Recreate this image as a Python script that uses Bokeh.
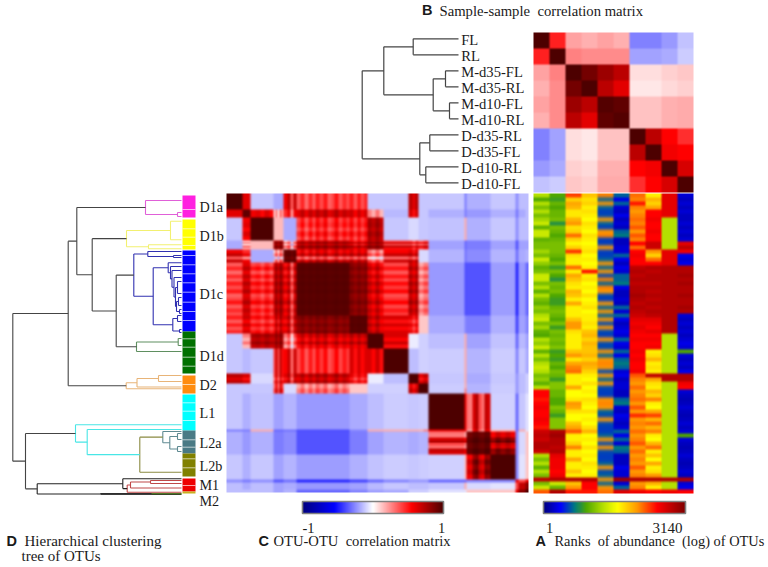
import numpy as np
from bokeh.plotting import figure
from bokeh.models import Range1d
from bokeh.core.properties import value
from bokeh.embed import file_html
from bokeh.resources import INLINE

# ---------- DATA ----------
sample_names = ["FL", "RL", "M-d35-FL", "M-d35-RL", "M-d10-FL", "M-d10-RL",
                "D-d35-RL", "D-d35-FL", "D-d10-RL", "D-d10-FL"]
sample_corr = [
    [100, 48, 20, 17, 20, 17, -27, -27, -22, -13],
    [48, 100, 27, 25, 25, 25, -20, -20, -18, -11],
    [20, 27, 100, 90, 80, 72, 7, 7, 10, 12],
    [17, 25, 90, 100, 72, 62, 5, 5, 8, 10],
    [20, 25, 80, 72, 98, 95, 13, 13, 17, 18],
    [17, 25, 72, 62, 95, 98, 13, 13, 17, 18],
    [-27, -20, 7, 5, 13, 13, 100, 72, 55, 45],
    [-27, -20, 7, 5, 13, 13, 72, 100, 58, 55],
    [-22, -18, 10, 8, 17, 17, 55, 58, 100, 65],
    [-13, -11, 12, 10, 18, 18, 45, 55, 65, 100],
]
# merge heights of the sample tree; leaves are sample indices
sample_tree = (96.3, "#444444",
               (74.7, "#444444", (45.3, "#444444", 0, 1),
                (25.3, "#444444", (13, "#444444", 2, 3), (9, "#444444", 4, 5))),
               (38.7, "#444444", (28.7, "#444444", 6, 7), (32.7, "#444444", 8, 9)))

otu_block_sizes = [16, 8, 23, 10, 13, 53, 18, 16, 25, 10, 10, 36, 2, 24, 25, 3, 7, 3]
otu_corr_upper = [
    [100, 62, -12, -18, 62, 42, 42, -12, -12, 68, -12, -12, -28, -17, -12, -24, -14, -14],
    [95, 58, 25, 50, 68, 62, 25, -15, 60, -12, -17, -28, -22, -17, -28, -18, -14],
    [100, 15, -18, 46, 46, 75, -12, -8, -12, -13, 18, -17, -12, -24, -14, -14],
    [85, 30, 78, 68, 82, 60, 55, 55, -20, -32, -28, -20, -36, -20, -20],
    [95, 62, 62, 32, 60, 62, -8, -16, -30, -25, -16, -30, -18, -16],
    [97, 85, 66, 46, 70, 30, -22, -38, -37, -21, -46, -22, -32],
    [97, 68, 58, 50, 12, -18, -26, -28, -17, -40, -20, -26],
    [100, 62, -4, -10, -14, 18, -20, -13, -32, -15, -20],
    [100, -14, -10, -11, 18, -16, -11, -26, -12, -18],
    [100, 62, -12, 18, -18, -12, -22, -14, -10],
    [100, -11, 22, -16, -11, -22, -14, -10],
    [100, 60, 50, -10, -32, -12, -6],
    [60, 40, 15, -32, 18, -5],
    [95, 75, -26, -8, 12],
    [100, -26, -6, 12],
    [60, 40, 60],
    [70, 85],
    [100],
]
otu_block_stripes = [
    [0], [0], [0, 4, -4, 6, -3], [-18, 8, -22, 12, -8], [-4, 10, -28, 8],
    [-7, 5, -10, 4, -8, 7, -3, 8, -8, -2, 9, -6, 4, -4],
    [7, -6, 8, -4, 6], [3, -8, 6, -10], [0], [5, -8, 6], [-5, 5],
    [0], [0], [-20, -22, 15, 25, -10, -20, 20, 15], [-10, 10, -4, 8, -6], [0], [0], [0],
]

rank_FL = [42, 30, 42, 35, 42, 35, 40, 45, 32, 45, 45, 32, 35, 35, 40, 35, 45, 38, 32, 35,
           45, 45, 35, 42, 32, 42, 35, 32, 38, 35, 42, 45, 35, 40, 32, 30, 42, 38, 45, 32,
           42, 35, 42, 45, 42, 35, 38, 32, 42, 80, 80, 78, 80, 82, 80, 80, 82, 80, 78, 88,
           90, 88, 92, 92, 88, 42, 35, 42, 32, 42, 35, 90, 35, 45, 72]
rank_RL = [30, 28, 33, 30, 33, 33, 35, 26, 35, 33, 30, 33, 35, 35, 35, 33, 30, 35, 28, 35,
           30, 26, 35, 33, 35, 30, 28, 28, 33, 35, 33, 30, 35, 28, 35, 33, 35, 33, 36, 28,
           30, 28, 33, 30, 35, 33, 28, 36, 36, 33, 33, 30, 30, 36, 33, 28, 36, 36, 36, 92,
           95, 92, 92, 90, 92, 84, 82, 82, 82, 80, 82, 92, 45, 33, 92]
rank_M_d35_FL = [74, 58, 64, 62, 55, 55, 62, 66, 56, 58, 70, 58, 53, 58, 75, 56, 54, 54, 70, 54,
                 64, 60, 56, 54, 62, 60, 54, 64, 54, 54, 54, 60, 66, 66, 56, 54, 54, 54, 54, 60,
                 66, 55, 64, 68, 70, 54, 54, 54, 64, 52, 52, 55, 66, 64, 56, 52, 52, 60, 64, 72,
                 54, 54, 58, 68, 54, 54, 64, 54, 54, 60, 54, 92, 60, 66, 78]
rank_M_d35_RL = [60, 56, 58, 54, 56, 54, 52, 56, 54, 52, 56, 54, 52, 54, 56, 52, 54, 52, 54, 78,
                 54, 56, 52, 54, 52, 56, 52, 54, 56, 52, 54, 54, 56, 54, 60, 62, 58, 62, 60, 60,
                 62, 58, 64, 62, 58, 54, 52, 56, 52, 54, 52, 56, 54, 52, 56, 52, 54, 52, 56, 62,
                 52, 54, 52, 56, 52, 54, 52, 56, 54, 52, 54, 92, 80, 80, 78]
rank_M_d10_FL = [68, 20, 66, 20, 17, 18, 66, 20, 17, 66, 68, 17, 17, 66, 17, 17, 20, 66, 20, 66,
                 18, 68, 20, 68, 66, 18, 17, 66, 20, 66, 20, 66, 18, 66, 18, 17, 66, 18, 18, 66,
                 20, 66, 68, 66, 18, 66, 20, 66, 18, 17, 17, 66, 68, 66, 20, 18, 66, 18, 17, 17,
                 20, 66, 18, 66, 18, 17, 17, 20, 66, 18, 20, 66, 20, 66, 70]
rank_M_d10_RL = [20, 10, 20, 8, 6, 10, 6, 8, 6, 20, 22, 6, 6, 8, 8, 20, 10, 6, 10, 8,
                 20, 20, 22, 10, 6, 6, 8, 6, 20, 8, 20, 10, 6, 8, 10, 8, 20, 10, 8, 20,
                 10, 20, 22, 20, 8, 10, 6, 8, 8, 6, 6, 20, 22, 8, 6, 10, 8, 6, 8, 20,
                 10, 20, 8, 22, 20, 6, 6, 6, 10, 8, 8, 95, 8, 20, 85]
rank_D_d35_RL = [70, 68, 78, 68, 66, 68, 70, 68, 72, 66, 72, 68, 80, 70, 80, 82, 80, 80, 90, 92,
                 90, 92, 90, 92, 92, 94, 92, 90, 92, 90, 88, 84, 82, 84, 82, 80, 82, 80, 80, 82,
                 80, 82, 80, 80, 82, 72, 68, 66, 70, 66, 68, 70, 66, 72, 66, 76, 66, 68, 66, 70,
                 66, 68, 72, 66, 70, 66, 68, 66, 72, 66, 68, 92, 66, 68, 82]
rank_D_d35_FL = [54, 62, 58, 64, 80, 80, 82, 80, 80, 82, 80, 80, 88, 88, 66, 58, 70, 80, 92, 90,
                 92, 92, 90, 92, 90, 92, 90, 92, 90, 92, 90, 84, 82, 80, 84, 80, 82, 80, 82, 54,
                 56, 62, 54, 56, 54, 90, 64, 56, 54, 62, 58, 68, 54, 52, 64, 74, 62, 70, 62, 68,
                 54, 52, 62, 70, 54, 60, 52, 64, 54, 56, 66, 92, 62, 54, 80]
rank_D_d10_RL = [84, 84, 84, 84, 84, 84, 42, 42, 42, 42, 42, 42, 42, 42, 84, 84, 84, 84, 92, 92,
                 92, 92, 92, 92, 92, 92, 92, 92, 92, 92, 92, 92, 92, 92, 92, 42, 42, 42, 42, 42,
                 42, 42, 42, 42, 42, 92, 92, 42, 42, 42, 42, 42, 42, 42, 42, 42, 42, 42, 42, 42,
                 42, 42, 42, 42, 42, 42, 42, 42, 42, 42, 42, 92, 42, 42, 82]
rank_D_d10_FL = [8, 6, 8, 6, 8, 6, 6, 8, 6, 8, 6, 8, 84, 90, 82, 10, 8, 10, 92, 92,
                 94, 92, 94, 92, 92, 94, 92, 92, 94, 92, 8, 6, 8, 6, 8, 6, 8, 10, 8, 30,
                 8, 6, 8, 6, 10, 92, 92, 82, 80, 8, 6, 5, 6, 8, 6, 5, 6, 8, 6, 8,
                 30, 8, 6, 5, 6, 8, 6, 5, 6, 8, 6, 92, 8, 10, 80]

group_names = ["D1a", "D1b", "D1c", "D1d", "D2", "L1", "L2a", "L2b", "M1", "M2"]
group_starts = [2, 26, 57, 138, 182, 201, 237, 260, 285, 298]
group_sizes = [22, 30, 81, 42, 18, 36, 23, 23, 13, 2]
group_colors = ["#ff20e0", "#ffff00", "#0000ff", "#007000", "#ff8c10",
                "#00ffff", "#4a7a85", "#808000", "#ee0000", "#c8b020"]
group_marks = [16, 35.3, 43.7, 52, 62, 71.3, 80.3, 89.3, 98.7, 108.7, 118, 127, 145.3, 153.7,
               163.7, 172.7, 191, 209.3, 217.7, 227, 246.3, 253.7, 265.3, 274.3, 292]

BK, MG, YL, BL, GN, OR, CY, TL, OL, RD, LG = ("#444444", "#e060d8", "#f2f070", "#3030b0", "#5f8f60",
                                              "#e8b478", "#48e6e6", "#5f8a92", "#8a8a40", "#c04848", "#90e040")
tree_D1a = (36, MG, 7, (4, MG, 19, 23))
tree_D1b = (55, YL, (11, YL, 27.7, 46.3), (33, YL, 51.3, 55.3))
blue_top = (33.7, BL, 58, (8, BL, 62, 64))
blue_chain = (13.3, BL, 69.3,
              (11, BL, 73,
               (9.5, BL, 77,
                (7.5, BL, 84,
                 (6, BL, (4, BL, 88, 100), (5, BL, (3, BL, 104, 112), (2, BL, 116, 120)))))))
blue_end = (8.7, BL, (4, BL, 122, 128), (2, BL, 136, 139))
tree_D1c = (47.7, BL, blue_top, (28.3, BL, blue_chain, blue_end))
tree_D1d = (45, GN, (3.3, GN, 145, 152), 158)
tree_D2 = (55.3, OR, (44.5, OR, (23, OR, 182, 188), 193.5), 195.3)
tree_L2a = (18.7, TL, 238, (11.7, TL, (4, TL, 240, 246), (4, TL, 253, 258)))
tree_L2b = (41.7, OL, tree_L2a, 278.7)
tree_L = (106, CY, 231.3, (94.3, CY, 236, tree_L2b))
tree_M1 = (54.3, RD, (51, RD, (31, RD, 287, 290), 294.5), 298.7)
tree_M = (144.3, "#222222", (58.7, "#222222", 285.3, tree_M1),
          (81, "#111111", (30, LG, 300, 300.6), 300.6))
tree_D_part = (104.7, BK, tree_D1a,
               (89.3, BK, tree_D1b, (65.3, BK, tree_D1c, tree_D1d)))
otu_tree = (168.7, BK, (113.3, BK, tree_D_part, tree_D2), (156, BK, tree_L, tree_M))

corr_stops = [-100, -55, 0, 55, 100]
corr_colors = ["#000080", "#0000ff", "#ffffff", "#ff0000", "#4d0000"]
rank_stops = [0, 12, 22, 30, 42, 52, 66, 80, 100]
rank_colors = ["#000080", "#0000ff", "#007a80", "#50a800", "#b4e000", "#ffff00", "#ff9900", "#ff0000", "#800000"]

# ---------- LAYOUT (reference pixels) ----------
PAGE_H = 567
p = figure(width=768, height=567, output_backend="svg", toolbar_location=None,
           x_range=Range1d(0, 768), y_range=Range1d(0, PAGE_H),
           min_border=0, outline_line_color=None, background_fill_color="white",
           border_fill_color="white")
p.axis.visible = False
p.grid.visible = False


def Y(v):
    return PAGE_H - np.asarray(v, dtype=float)


def cmap(vals, stops, colors):
    rgb = np.array([[int(c[i:i + 2], 16) for i in (1, 3, 5)] for c in colors], dtype=float)
    vals = np.asarray(vals, dtype=float)
    return np.stack([np.interp(vals, stops, rgb[:, k]) for k in range(3)], axis=-1)


def soften(rgb, axis):
    pad = [(0, 0)] * rgb.ndim
    pad[axis] = (1, 1)
    a = np.pad(rgb, pad, mode="edge")
    lo = np.take(a, range(0, a.shape[axis] - 2), axis=axis)
    mid = np.take(a, range(1, a.shape[axis] - 1), axis=axis)
    hi = np.take(a, range(2, a.shape[axis]), axis=axis)
    return (lo + 2 * mid + hi) / 4


def draw_rgb(rgb, left, top, w, h):
    rows, cols, _ = rgb.shape
    arr = np.zeros((rows, cols), dtype=np.uint32)
    view = arr.view(np.uint8).reshape((rows, cols, 4))
    view[:, :, :3] = np.clip(rgb[::-1], 0, 255).astype(np.uint8)
    view[:, :, 3] = 255
    p.image_rgba(image=[arr], x=[left], y=[float(Y(top + h))], dw=[w], dh=[h])


def walk(node, out):
    if not isinstance(node, tuple):
        return float(node), 0.0
    h, col, a, b = node
    ya, ha = walk(a, out)
    yb, hb = walk(b, out)
    for row in ((h, ya, h, yb), (h, ya, ha, ya), (h, yb, hb, yb)):
        out.append((row, col))
    return (ya + yb) / 2, h


def draw_tree(tree, leaf_x, to_y, width):
    out = []
    walk(tree, out)
    x0 = [leaf_x - r[0] for r, _ in out]
    x1 = [leaf_x - r[2] for r, _ in out]
    y0 = Y(to_y(np.array([r[1] for r, _ in out])))
    y1 = Y(to_y(np.array([r[3] for r, _ in out])))
    cols = [c for _, c in out]
    p.segment(x0, y0, x1, y1, line_color=cols, line_width=width)


def label(x, y, txt, size, font="Liberation Serif", style="normal", align="left", color="#1a1a1a"):
    p.text(x=[x], y=[float(Y(y))], text=[txt], text_font=value(font), text_font_size=size,
           text_font_style=style, text_align=align, text_baseline="middle", text_color=color)


# sample-sample matrix
s = np.repeat(np.repeat(np.array(sample_corr), 16, axis=0), 16, axis=1)
rgb = cmap(s, corr_stops, corr_colors)
rgb = soften(soften(rgb, 0), 1)
draw_rgb(rgb, 533, 32, 160, 160)

# OTU-OTU matrix, bins of blocks with stripes
nb = len(otu_block_sizes)
block = np.zeros((nb, nb))
for i, row in enumerate(otu_corr_upper):
    for j, v in enumerate(row):
        block[i, i + j] = v
        block[i + j, i] = v
bin_block = []
bin_stripe = []
for k, (sz, st) in enumerate(zip(otu_block_sizes, otu_block_stripes)):
    idx = (np.arange(sz) * len(st) // sz)
    bin_block.extend([k] * sz)
    bin_stripe.extend(np.array(st)[idx].tolist())
bin_block = np.array(bin_block)
bin_stripe = np.array(bin_stripe, dtype=float)
b = block[np.ix_(bin_block, bin_block)]
k = np.where(b > 20, np.clip((100 - b) / 40, 0, 1), 0)
m = b + (bin_stripe[:, None] + bin_stripe[None, :]) * k
rgb = cmap(m, corr_stops, corr_colors)
rgb = soften(soften(soften(soften(rgb, 0), 0), 1), 1)
draw_rgb(rgb, 226, 193, 302, 299)

# rank matrix
ranks = np.array([rank_FL, rank_RL, rank_M_d35_FL, rank_M_d35_RL, rank_M_d10_FL, rank_M_d10_RL,
                  rank_D_d35_RL, rank_D_d35_FL, rank_D_d10_RL, rank_D_d10_FL]).T
r = np.repeat(np.repeat(ranks, 4, axis=0), 16, axis=1)
rgb = cmap(r, rank_stops, rank_colors)
rgb = soften(soften(rgb, 0), 0)
for _ in range(3):                       # the 5th column is a fine mix of blue and orange rows
    rgb[:, 64:80] = soften(rgb[:, 64:80], 0)
rgb = soften(rgb, 1)
draw_rgb(rgb, 533, 193, 160, 300)

# colour bars
ramp_c = np.linspace(-100, 100, 280)[None, :]
ramp_r = np.linspace(0, 100, 280)[None, :]
draw_rgb(cmap(ramp_c, corr_stops, corr_colors), 302, 501, 141, 12)
draw_rgb(cmap(ramp_r, rank_stops, rank_colors), 543, 501, 142, 12)
p.quad(left=[302, 543], right=[443, 685], top=Y([501, 501]), bottom=Y([513, 513]),
       fill_alpha=0, line_color="#808080", line_width=1.6)

# trees
draw_tree(sample_tree, 458, lambda v: 38.3 + 16 * v, 1.2)
draw_tree(otu_tree, 181, lambda v: 193 + v, 1.1)

# group bar
g_top = 193 + np.array(group_starts, dtype=float)
g_bot = g_top + np.array(group_sizes)
p.quad(left=[182] * len(g_top), right=[195] * len(g_top), top=Y(g_top), bottom=Y(g_bot),
       fill_color=group_colors, line_color=None)
ym = Y(193 + np.array(group_marks))
p.segment([182] * len(ym), ym, [195] * len(ym), ym, line_color="white", line_alpha=0.65, line_width=1)

# texts
for i, n in enumerate(sample_names):
    label(460.7, 39 + 16 * i, n, "14.6px")
group_label_y = [206, 235, 293, 355, 384, 412, 442, 465, 484, 500]
for n, y in zip(group_names, group_label_y):
    label(199, y, n, "14.2px")

SP = "\u00a0\u00a0"
label(421.5, 9.5, "B", "14.5px", "Liberation Sans", "bold")
label(439, 10, "Sample-sample" + SP + "correlation matrix", "14.7px")
label(6, 540, "D", "14.5px", "Liberation Sans", "bold")
label(24, 540, "Hierarchical clustering", "15px")
label(21, 555, "tree of OTUs", "15px")
label(258, 540, "C", "14.5px", "Liberation Sans", "bold")
label(273, 540, "OTU-OTU" + SP + "correlation matrix", "14.6px")
label(535, 540, "A", "14.5px", "Liberation Sans", "bold")
label(554, 540, "Ranks" + SP + "of abundance" + SP + "(log) of OTUs", "14.4px")
label(308, 527, "-1", "14.5px", align="center")
label(441, 527, "1", "14.5px", align="center")
label(549, 527, "1", "14.5px", align="center")
label(667, 527, "3140", "15px", align="center")

open("out.html", "w").write(file_html(p, INLINE))
